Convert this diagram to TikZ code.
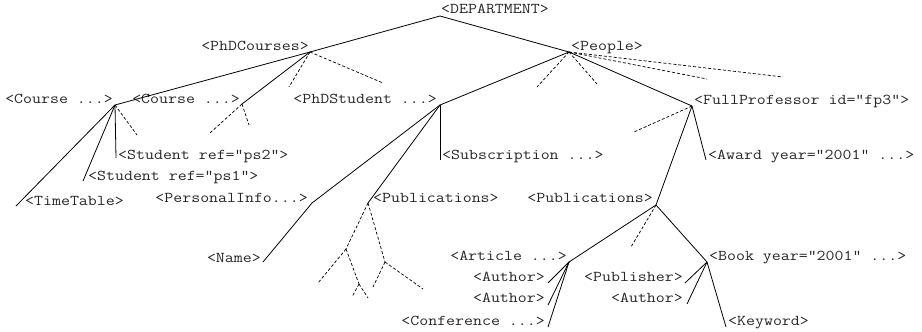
\documentclass[tikz,border=0pt]{standalone}
\usepackage{fontspec}
\newfontfamily\courierlike[FakeStretch=1.16]{Latin Modern Mono}
\begin{document}
\begin{tikzpicture}[x=1pt,y=-1pt,
  lbl/.style={font=\courierlike\fontsize{15}{17}\selectfont, inner sep=0pt, text=black!85},
  edge/.style={line width=0.8pt},
  dedge/.style={line width=0.7pt, dash pattern=on 3pt off 2pt}]
\useasboundingbox (0,0) rectangle (922,332);
% vertices and free ends
\coordinate (r) at (440,16);
\coordinate (pc) at (310,52);
\coordinate (pe) at (569,52);
\coordinate (c1) at (115,105);
\coordinate (c2) at (242,104);
\coordinate (ps) at (440,105);
\coordinate (fp) at (692,106);
\coordinate (tt) at (16,206);
\coordinate (s1) at (83,181);
\coordinate (s2) at (116,158);
\coordinate (sb) at (440,160);
\coordinate (pi) at (312,203);
\coordinate (nm) at (263,262);
\coordinate (p1) at (368,203);
\coordinate (aw) at (706,160);
\coordinate (p2) at (656,205);
\coordinate (ar) at (569,262);
\coordinate (a1) at (548,283);
\coordinate (a2) at (548,305);
\coordinate (cf) at (548,327);
\coordinate (bk) at (707,262);
\coordinate (pb) at (685,283);
\coordinate (a3) at (687,304);
\coordinate (kw) at (726,327);
\coordinate (d1) at (289,87);
\coordinate (d2) at (383,83);
\coordinate (d3) at (137,135);
\coordinate (d4) at (210,133);
\coordinate (d5) at (249,125);
\coordinate (d6) at (537,87);
\coordinate (d7) at (597,84);
\coordinate (d8) at (707,79);
\coordinate (d9) at (783,77);
\coordinate (d10) at (634,132);
\coordinate (d11) at (631,247);
\coordinate (qA) at (346,249);
\coordinate (qB) at (385,262);
\coordinate (qC) at (359,284);
\coordinate (e1) at (318,283);
\coordinate (e2) at (352,297);
\coordinate (e3) at (368,298);
\coordinate (e4) at (373,287);
\coordinate (e5) at (423,289);
% labels
\node[lbl, anchor=mid west] (tDep) at (441,11) {<DEPARTMENT>};
\node[lbl, anchor=mid east] (tPhDC) at (309,48) {<PhDCourses>};
\node[lbl, anchor=mid west] (tPeople) at (571,48) {<People>};
\node[lbl, anchor=mid east] (tC1) at (113,101) {<Course ...>};
\node[lbl, anchor=mid east] (tC2) at (240,101) {<Course ...>};
\node[lbl, anchor=mid east] (tPhDS) at (437,101) {<PhDStudent ...>};
\node[lbl, anchor=mid west] (tFP) at (694,102) {<FullProfessor id="fp3">};
\node[lbl, anchor=mid west] (tTT) at (25,203) {<TimeTable>};
\node[lbl, anchor=mid west] (tS1) at (88,178) {<Student ref="ps1">};
\node[lbl, anchor=mid west] (tS2) at (118,157) {<Student ref="ps2">};
\node[lbl, anchor=mid west] (tSub) at (442,157) {<Subscription ...>};
\node[lbl, anchor=mid east] (tPI) at (308,200) {<PersonalInfo...>};
\node[lbl, anchor=mid east] (tName) at (261,260) {<Name>};
\node[lbl, anchor=mid west] (tPub1) at (373,200) {<Publications>};
\node[lbl, anchor=mid west] (tAw) at (708,157) {<Award year="2001" ...>};
\node[lbl, anchor=mid east] (tPub2) at (653,200) {<Publications>};
\node[lbl, anchor=mid east] (tAr) at (567,258) {<Article ...>};
\node[lbl, anchor=mid east] (tA1) at (545,279) {<Author>};
\node[lbl, anchor=mid east] (tA2) at (545,300) {<Author>};
\node[lbl, anchor=mid east] (tCf) at (545,323) {<Conference ...>};
\node[lbl, anchor=mid west] (tBk) at (709,258) {<Book year="2001" ...>};
\node[lbl, anchor=mid east] (tPb) at (683,279) {<Publisher>};
\node[lbl, anchor=mid east] (tA3) at (683,300) {<Author>};
\node[lbl, anchor=mid west] (tKw) at (728,323) {<Keyword>};
% solid edges
\draw[edge] (r) -- (pc);
\draw[edge] (r) -- (pe);
\draw[edge] (pc) -- (c1);
\draw[edge] (pc) -- (c2);
\draw[edge] (pe) -- (ps);
\draw[edge] (pe) -- (fp);
\draw[edge] (c1) -- (tt);
\draw[edge] (c1) -- (s1);
\draw[edge] (c1) -- (s2);
\draw[edge] (ps) -- (pi) -- (nm);
\draw[edge] (ps) -- (p1);
\draw[edge] (ps) -- (sb);
\draw[edge] (fp) -- (aw);
\draw[edge] (fp) -- (p2);
\draw[edge] (p2) -- (ar);
\draw[edge] (p2) -- (bk);
\draw[edge] (ar) -- (a1);
\draw[edge] (ar) -- (a2);
\draw[edge] (ar) -- (cf);
\draw[edge] (bk) -- (pb);
\draw[edge] (bk) -- (a3);
\draw[edge] (bk) -- (kw);
% dashed edges
\draw[dedge] (pc) -- (d1);
\draw[dedge] (pc) -- (d2);
\draw[dedge] (c1) -- (d3);
\draw[dedge] (c2) -- (d4);
\draw[dedge] (c2) -- (d5);
\draw[dedge] (pe) -- (d6);
\draw[dedge] (pe) -- (d7);
\draw[dedge] (pe) -- (d8);
\draw[dedge] (pe) -- (d9);
\draw[dedge] (fp) -- (d10);
\draw[dedge] (p2) -- (d11);
\draw[dedge] (p1) -- (qA);
\draw[dedge] (p1) -- (qB);
\draw[dedge] (qA) -- (e1);
\draw[dedge] (qA) -- (qC);
\draw[dedge] (qC) -- (e2);
\draw[dedge] (qC) -- (e3);
\draw[dedge] (qB) -- (e4);
\draw[dedge] (qB) -- (e5);
\end{tikzpicture}
\end{document}
